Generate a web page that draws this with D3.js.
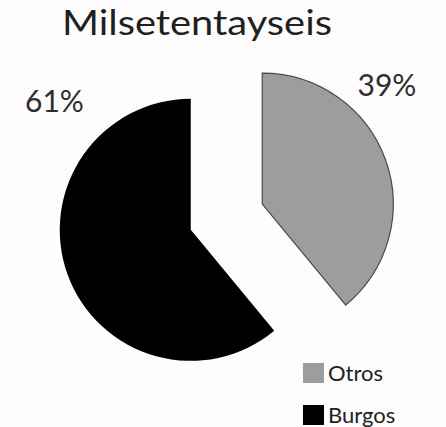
<!DOCTYPE html>
<html>
<head>
<meta charset="utf-8">
<script src="https://cdn.jsdelivr.net/npm/d3@7"></script>
<style>
  html, body { margin: 0; padding: 0; background: #ffffff; }
  svg { display: block; font-family: Lato, "Open Sans", sans-serif; }
</style>
</head>
<body>
<svg id="chart" width="446" height="427"></svg>
<script>
// Share of the 1776 census: Burgos vs. the rest
const title = "Milsetentayseis";
const categories = ["Otros", "Burgos"];
const values = [39, 61];
const colors = ["#9d9d9d", "#000000"];

const svg = d3.select("#chart");
const W = 446, H = 427;

svg.append("rect").attr("width", W).attr("height", H).attr("fill", "#fefcfd");

svg.append("text")
  .attr("x", 62).attr("y", 35)
  .attr("font-size", 35)
  .attr("textLength", 270)
  .attr("lengthAdjust", "spacingAndGlyphs")
  .attr("fill", "#1f1f1f")
  .text(title);

const cx = 226.5, cy = 217, R = 131, explode = 38;

const pie = d3.pie().sort(null).value(d => d.value);
const arcs = pie(categories.map((c, i) => ({ name: c, value: values[i], color: colors[i] })));
const arc = d3.arc().innerRadius(0).outerRadius(R);

const g = svg.append("g").attr("transform", `translate(${cx},${cy})`);

g.selectAll("path")
  .data(arcs)
  .join("path")
  .attr("transform", d => {
    const a = (d.startAngle + d.endAngle) / 2;
    return `translate(${explode * Math.sin(a)},${-explode * Math.cos(a)})`;
  })
  .attr("d", arc)
  .attr("fill", d => d.data.color)
  .attr("stroke", d => d.data.color === "#000000" ? "none" : "#4a4a4a")
  .attr("stroke-width", 1.2);

// Percentage labels beside each slice
const total = d3.sum(values);
const labelPos = { Otros: [387, 96], Burgos: [54.5, 112] };
svg.selectAll("text.pct")
  .data(arcs)
  .join("text")
  .attr("class", "pct")
  .attr("x", d => labelPos[d.data.name][0])
  .attr("y", d => labelPos[d.data.name][1])
  .attr("text-anchor", "middle")
  .attr("font-size", 30)
  .attr("fill", "#2e2e2e")
  .text(d => Math.round(d.data.value / total * 100) + "%");

// Legend
const legend = svg.append("g").attr("transform", "translate(303,363)");
const item = legend.selectAll("g")
  .data(categories)
  .join("g")
  .attr("transform", (d, i) => `translate(0,${i * 42})`);
item.append("rect")
  .attr("width", 21).attr("height", 20)
  .attr("fill", (d, i) => colors[i]);
item.append("text")
  .attr("x", 25).attr("y", 18)
  .attr("font-size", 22)
  .attr("fill", "#222")
  .text(d => d);
</script>
</body>
</html>
